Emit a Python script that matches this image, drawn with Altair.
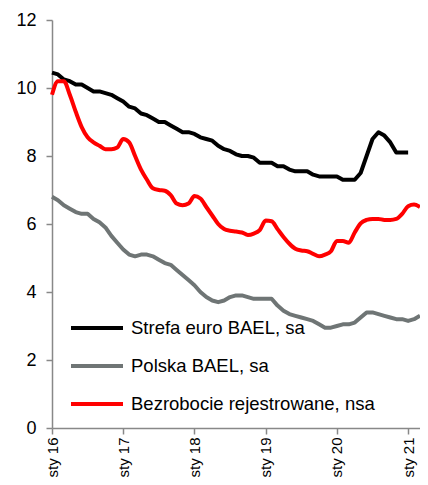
import altair as alt
import pandas as pd

series_names = ["Strefa euro BAEL, sa", "Polska BAEL, sa", "Bezrobocie rejestrowane, nsa"]
series_colors = ["#000000", "#6f7575", "#ff0000"]
tick_labels = ["sty 16", "sty 17", "sty 18", "sty 19", "sty 20", "sty 21"]
tick_months = [0, 12, 24, 36, 48, 60]
y_ticks = [0, 2, 4, 6, 8, 10, 12]

euro = [10.45, 10.4, 10.25, 10.2, 10.1, 10.1, 10.0, 9.9, 9.9, 9.85, 9.8, 9.7,
        9.6, 9.45, 9.4, 9.25, 9.2, 9.1, 9.0, 9.0, 8.9, 8.8, 8.7, 8.7,
        8.65, 8.55, 8.5, 8.45, 8.3, 8.2, 8.15, 8.05, 8.0, 8.0, 7.95, 7.8,
        7.8, 7.8, 7.7, 7.7, 7.6, 7.55, 7.55, 7.55, 7.45, 7.4, 7.4, 7.4,
        7.4, 7.3, 7.3, 7.3, 7.5, 8.0, 8.5, 8.7, 8.6, 8.4, 8.1, 8.1,
        8.1]
polska = [6.8, 6.7, 6.55, 6.45, 6.35, 6.3, 6.3, 6.15, 6.05, 5.9, 5.65, 5.45,
          5.25, 5.1, 5.05, 5.1, 5.1, 5.05, 4.95, 4.85, 4.8, 4.65, 4.5, 4.35,
          4.2, 4.0, 3.85, 3.75, 3.7, 3.75, 3.85, 3.9, 3.9, 3.85, 3.8, 3.8,
          3.8, 3.8, 3.6, 3.45, 3.35, 3.3, 3.25, 3.2, 3.15, 3.05, 2.95, 2.95,
          3.0, 3.05, 3.05, 3.1, 3.25, 3.4, 3.4, 3.35, 3.3, 3.25, 3.2, 3.2,
          3.15, 3.2, 3.3]
rejestr = [9.8, 10.2, 10.2, 9.8, 9.3, 8.85, 8.55, 8.4, 8.3, 8.2, 8.2, 8.25,
           8.5, 8.4, 8.0, 7.6, 7.3, 7.05, 7.0, 6.98, 6.85, 6.6, 6.55, 6.6,
           6.82, 6.75, 6.5, 6.25, 6.0, 5.85, 5.8, 5.78, 5.75, 5.68, 5.72, 5.82,
           6.1, 6.08, 5.85, 5.62, 5.42, 5.27, 5.22, 5.2, 5.12, 5.05, 5.1, 5.2,
           5.5, 5.5, 5.45, 5.75, 6.02, 6.12, 6.15, 6.15, 6.12, 6.12, 6.15, 6.3,
           6.52, 6.57, 6.5]

rows = []
for name, vals in zip(series_names, [euro, polska, rejestr]):
    for i, v in enumerate(vals):
        rows.append({"m": i, "v": v, "s": name})
df = pd.DataFrame(rows)

label_expr = "[" + ",".join(f"'{t}'" for t in tick_labels) + "][round(datum.value/12)]"

FONT = "Liberation Sans"

x_enc = alt.X("m:Q",
              scale=alt.Scale(domain=[0, 62], nice=False, zero=False),
              axis=alt.Axis(values=tick_months, labelExpr=label_expr, labelAngle=270,
                            title=None, tickSize=6, labelPadding=3, grid=False,
                            labelFontSize=15))
y_enc = alt.Y("v:Q",
              scale=alt.Scale(domain=[0, 12], nice=False),
              axis=alt.Axis(values=y_ticks, title=None, tickSize=6, labelPadding=10, grid=False))
c_enc = alt.Color("s:N",
                  scale=alt.Scale(domain=series_names, range=series_colors),
                  legend=alt.Legend(orient="none", legendX=17, legendY=280, title=None,
                                    symbolType="stroke", symbolSize=2704, symbolStrokeWidth=4,
                                    labelFontSize=18.5, labelFont=FONT, labelColor="#000000",
                                    labelOffset=6, rowPadding=-9, padding=0, labelLimit=400))

base = alt.Chart(df).encode(x=x_enc, y=y_enc, color=c_enc)

lin = base.transform_filter(alt.datum.s != series_names[2]).mark_line(
    strokeWidth=4, strokeJoin="round", interpolate="linear")
smooth = base.transform_filter(alt.datum.s == series_names[2]).mark_line(
    strokeWidth=4, strokeJoin="round", interpolate="monotone")

chart = alt.layer(lin, smooth).properties(
    width=368, height=408,
    autosize="none",
    padding={"left": 44, "top": 12, "right": 0, "bottom": 49},
).configure_view(stroke=None).configure_axis(
    domainColor="#888888", tickColor="#888888", labelColor="#000000",
    labelFont=FONT, labelFontSize=18, domainWidth=1.5, tickWidth=1.5
)

chart.save("out.html", embed_options={"renderer": "svg", "actions": False})
